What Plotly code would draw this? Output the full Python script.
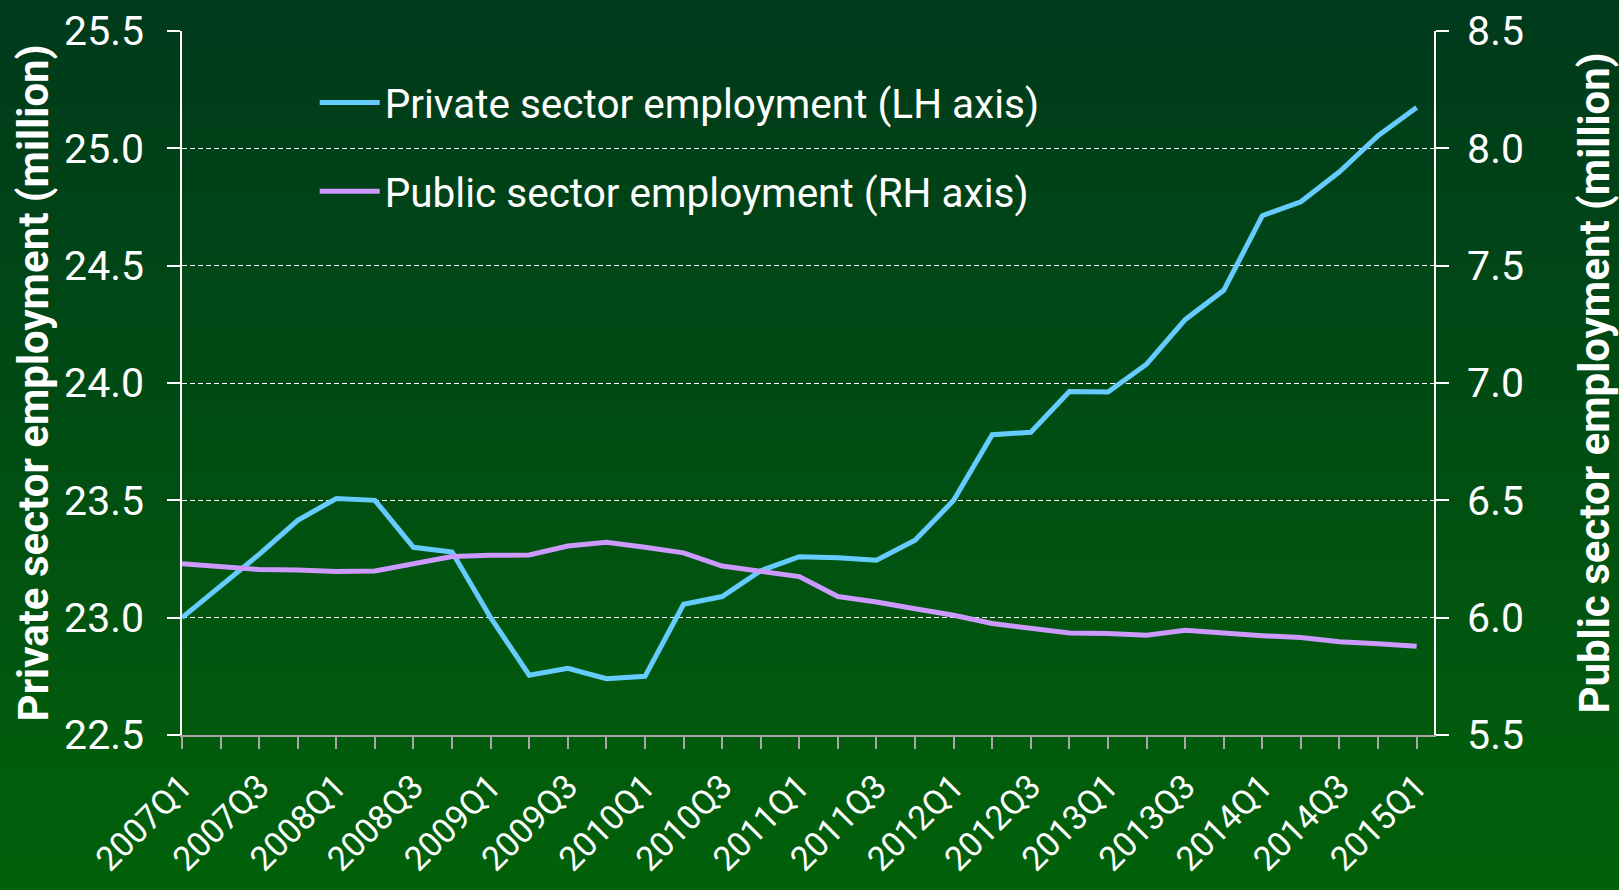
import plotly.graph_objects as go

quarters = [f"{y}Q{q}" for y in range(2007, 2016) for q in range(1, 5)][:33]

private_sector = [23.00, 23.135, 23.27, 23.415, 23.508, 23.50, 23.30, 23.28, 23.00,
                  22.755, 22.784, 22.74, 22.75, 23.057, 23.09, 23.20, 23.26, 23.255,
                  23.245, 23.33, 23.50, 23.78, 23.79, 23.964, 23.962, 24.08, 24.27,
                  24.395, 24.713, 24.772, 24.90, 25.054, 25.174]

public_sector = [6.23, 6.215, 6.205, 6.203, 6.197, 6.199, 6.23, 6.261, 6.266,
                 6.267, 6.305, 6.321, 6.30, 6.276, 6.22, 6.195, 6.175, 6.09,
                 6.067, 6.038, 6.01, 5.975, 5.953, 5.935, 5.932, 5.925, 5.946,
                 5.932, 5.923, 5.915, 5.897, 5.889, 5.878]

tick_text = [q if i % 2 == 0 else "" for i, q in enumerate(quarters)]
left_ticks = [22.5, 23.0, 23.5, 24.0, 24.5, 25.0, 25.5]
right_ticks = [5.5, 6.0, 6.5, 7.0, 7.5, 8.0, 8.5]
right_text = ["\u00a0" + f"{v:.1f}" for v in right_ticks]

FONT = "Roboto"
W, H = 1619, 890
ML, MR, MT, MB = 182, 185, 31, 155
PW, PH = W - ML - MR, H - MT - MB

fig = go.Figure()
fig.add_trace(go.Scatter(x=quarters, y=private_sector, mode="lines",
                         name="Private sector employment (LH axis)",
                         line=dict(color="#66ccff", width=5), legendgroup="a"))
fig.add_trace(go.Scatter(x=quarters, y=public_sector, mode="lines",
                         name="Public sector employment (RH axis)",
                         line=dict(color="#cc99ff", width=5), yaxis="y2", legendgroup="b"))

# gradient background bands
n = 100
top = (0, 58, 28)
bot = (1, 97, 10)
x0p, x1p = -ML / PW, 1 + MR / PW
y0p, y1p = -MB / PH, 1 + MT / PH
shapes = []
for i in range(n):
    t = (i + 0.5) / n
    c = tuple(round(top[k] + (bot[k] - top[k]) * t) for k in range(3))
    ya = y1p - (y1p - y0p) * i / n
    yb = y1p - (y1p - y0p) * (i + 1) / n
    shapes.append(dict(type="rect", xref="paper", yref="paper", x0=x0p, x1=x1p,
                       y0=yb - 0.002, y1=ya + 0.002, fillcolor=f"rgb{c}",
                       line=dict(width=0), layer="below"))

fig.update_layout(
    width=W, height=H,
    margin=dict(l=ML, r=MR, t=MT, b=MB, autoexpand=False),
    paper_bgcolor="rgb(1,78,19)", plot_bgcolor="rgba(0,0,0,0)",
    shapes=shapes,
    font=dict(family=FONT, color="white"),
    showlegend=True,
    legend=dict(x=0.106, y=0.945, xanchor="left", yanchor="top",
                bgcolor="rgba(0,0,0,0)", font=dict(size=40.5, family=FONT, color="white"),
                tracegroupgap=33, traceorder="grouped", itemwidth=60),
    xaxis=dict(type="category", range=[0, 32.45], tickmode="array",
               tickvals=quarters, ticktext=tick_text, tickangle=-45,
               tickfont=dict(size=34, family=FONT, color="white"),
               ticks="outside", ticklen=12, tickcolor="#a6a6a6", tickwidth=1.5,
               showline=True, linecolor="#a6a6a6", linewidth=2,
               showgrid=False, zeroline=False, ticklabelstandoff=4),
    yaxis=dict(range=[22.5, 25.5], tickmode="array", tickvals=left_ticks,
               tickformat=".1f", tickfont=dict(size=41, family=FONT, color="white"),
               ticks="outside", ticklen=13, tickcolor="white", tickwidth=1.5,
               showline=True, linecolor="white", linewidth=1.5,
               showgrid=True, gridcolor="white", gridwidth=1.2, griddash="5px,3px",
               zeroline=False, ticklabelstandoff=15,
               title=dict(text="<b>Private sector employment (million)</b>",
                          font=dict(size=42, family=FONT, color="white"), standoff=2)),
    yaxis2=dict(range=[5.5, 8.5], tickmode="array", tickvals=right_ticks,
                ticktext=right_text, tickfont=dict(size=41, family=FONT, color="white"),
                overlaying="y", side="right",
                ticks="outside", ticklen=13, tickcolor="white", tickwidth=1.5,
                showline=True, linecolor="white", linewidth=1.5,
                showgrid=False, zeroline=False,
                title=dict(text="<b>Public sector employment (million)</b>",
                           font=dict(size=42, family=FONT, color="white"), standoff=60)),
)

fig.write_html("out.html", config={"displayModeBar": False},
               post_script="document.body.style.margin='0';")
